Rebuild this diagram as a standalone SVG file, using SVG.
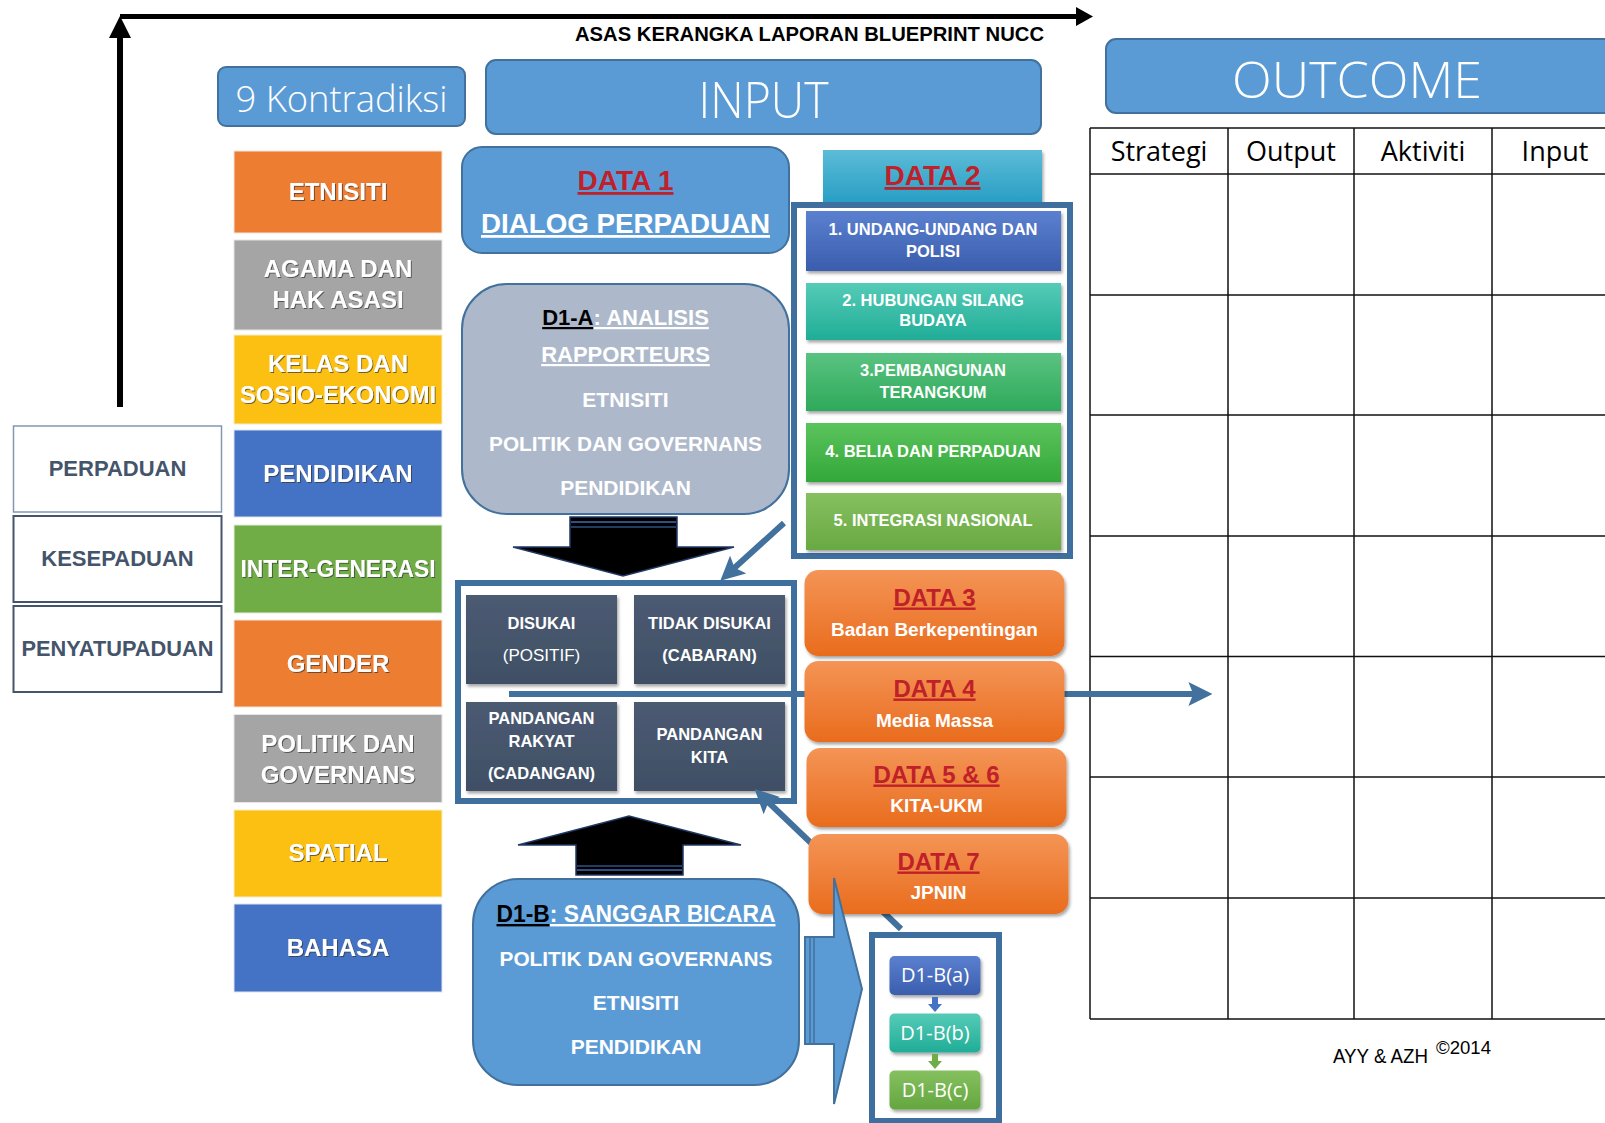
<svg xmlns="http://www.w3.org/2000/svg" width="1605" height="1123" viewBox="0 0 1605 1123">
<defs>
<style>
text{font-family:"Liberation Sans",Arial,sans-serif;}
.b{font-weight:bold;}
.mid{text-anchor:middle;}
.lt{font-family:"Open Sans","Lato","Liberation Sans",sans-serif;font-weight:300;fill:#fff;text-anchor:middle;}
.cat{font-size:24px;font-weight:bold;fill:#fff;text-anchor:middle;filter:url(#ts);}
.lvl{font-size:22px;font-weight:bold;fill:#44546a;text-anchor:middle;}
.blue{fill:#5b9bd5;stroke:#41719c;stroke-width:2;}
.red{fill:#c0202a;font-weight:bold;text-decoration:underline;text-anchor:middle;}
.wu{fill:#fff;font-weight:bold;text-decoration:underline;text-anchor:middle;}
.wt{fill:#fff;font-weight:bold;text-anchor:middle;}
.th{font-family:"Open Sans","Lato","Liberation Sans",sans-serif;font-size:27px;fill:#000;text-anchor:middle;}
.grid{stroke:#111;stroke-width:1.5;fill:none;}
.cell{fill:url(#gCell);filter:url(#sh);}
.ctext{font-size:16.5px;font-weight:bold;fill:#fff;text-anchor:middle;}
.ctl{font-size:17px;font-weight:normal;fill:#fff;text-anchor:middle;}
.org{fill:url(#gOrg);filter:url(#sh);}
.frame{fill:#fff;stroke:#3e6f9f;stroke-width:6;}
.conn{stroke:#41719c;stroke-width:6;fill:none;marker-end:url(#ah);}
.d2i{filter:url(#sh);}
.dt{font-size:16.5px;font-weight:bold;fill:#fff;text-anchor:middle;}
.sm{font-family:"Open Sans","Liberation Sans",sans-serif;font-size:20px;fill:#fff;text-anchor:middle;}
</style>
<filter id="sh" x="-10%" y="-10%" width="125%" height="135%"><feDropShadow dx="1.5" dy="2.5" stdDeviation="1.5" flood-color="#000" flood-opacity="0.35"/></filter>
<filter id="ts" x="-5%" y="-20%" width="115%" height="150%"><feDropShadow dx="1" dy="1" stdDeviation="0.6" flood-color="#333" flood-opacity="0.7"/></filter>
<linearGradient id="gOrg" x1="0" y1="0" x2="0" y2="1"><stop offset="0" stop-color="#f49456"/><stop offset="1" stop-color="#e96c1d"/></linearGradient>
<linearGradient id="gCell" x1="0" y1="0" x2="0" y2="1"><stop offset="0" stop-color="#4b5b72"/><stop offset="1" stop-color="#3f4f65"/></linearGradient>
<linearGradient id="gTeal" x1="0" y1="0" x2="0" y2="1"><stop offset="0" stop-color="#5cbcd7"/><stop offset="1" stop-color="#259cc3"/></linearGradient>
<linearGradient id="g1" x1="0" y1="0" x2="0" y2="1"><stop offset="0" stop-color="#5b80cf"/><stop offset="1" stop-color="#3a5dad"/></linearGradient>
<linearGradient id="g2" x1="0" y1="0" x2="0" y2="1"><stop offset="0" stop-color="#55cbb7"/><stop offset="1" stop-color="#20ad97"/></linearGradient>
<linearGradient id="g3" x1="0" y1="0" x2="0" y2="1"><stop offset="0" stop-color="#5ac381"/><stop offset="1" stop-color="#2ea95a"/></linearGradient>
<linearGradient id="g4" x1="0" y1="0" x2="0" y2="1"><stop offset="0" stop-color="#5cc35c"/><stop offset="1" stop-color="#32a83a"/></linearGradient>
<linearGradient id="g5" x1="0" y1="0" x2="0" y2="1"><stop offset="0" stop-color="#86c05f"/><stop offset="1" stop-color="#69a943"/></linearGradient>
<linearGradient id="gc" x1="0" y1="0" x2="0" y2="1"><stop offset="0" stop-color="#86c05f"/><stop offset="1" stop-color="#64a63f"/></linearGradient>
<marker id="ah" viewBox="0 0 10 10" refX="4" refY="5" markerWidth="24" markerHeight="24" markerUnits="userSpaceOnUse" orient="auto"><path d="M0,0 L10,5 L0,10 L2,5 z" fill="#41719c"/></marker>
</defs>

<rect x="0" y="0" width="1605" height="1123" fill="#fff"/>

<g id="axes">
<line x1="120" y1="16.5" x2="1080" y2="16.5" stroke="#000" stroke-width="5"/>
<polygon points="1076,7 1093,16.5 1076,26" fill="#000"/>
<line x1="120" y1="407" x2="120" y2="34" stroke="#000" stroke-width="6"/>
<polygon points="109,38 120,16 131,38" fill="#000"/>
<text x="1044" y="41" font-size="21" class="b" text-anchor="end" textLength="469" lengthAdjust="spacingAndGlyphs">ASAS KERANGKA LAPORAN BLUEPRINT NUCC</text>
</g>

<g id="kontradiksi-header">
<rect x="218" y="67" width="247" height="59" rx="8" class="blue"/>
<text x="341.5" y="112" font-size="36" class="lt" textLength="212" lengthAdjust="spacingAndGlyphs">9 Kontradiksi</text>
</g>

<g id="input-header">
<rect x="486" y="60" width="555" height="74" rx="10" class="blue"/>
<text x="763.5" y="118" font-size="50" class="lt" textLength="130" lengthAdjust="spacingAndGlyphs">INPUT</text>
</g>

<g id="outcome-header">
<rect x="1106" y="39" width="520" height="74" rx="10" class="blue"/>
<text x="1357" y="98" font-size="50" class="lt" textLength="250" lengthAdjust="spacingAndGlyphs">OUTCOME</text>
</g>

<g id="outcome-table">
<line x1="1090" y1="128" x2="1605" y2="128" class="grid"/>
<line x1="1090" y1="174" x2="1605" y2="174" class="grid"/>
<line x1="1090" y1="295" x2="1605" y2="295" class="grid"/>
<line x1="1090" y1="415" x2="1605" y2="415" class="grid"/>
<line x1="1090" y1="536" x2="1605" y2="536" class="grid"/>
<line x1="1090" y1="656.5" x2="1605" y2="656.5" class="grid"/>
<line x1="1090" y1="777" x2="1605" y2="777" class="grid"/>
<line x1="1090" y1="898" x2="1605" y2="898" class="grid"/>
<line x1="1090" y1="1019" x2="1605" y2="1019" class="grid"/>
<line x1="1090" y1="128" x2="1090" y2="1019" class="grid"/>
<line x1="1228" y1="128" x2="1228" y2="1019" class="grid"/>
<line x1="1354" y1="128" x2="1354" y2="1019" class="grid"/>
<line x1="1492" y1="128" x2="1492" y2="1019" class="grid"/>
<text x="1159" y="161" class="th">Strategi</text>
<text x="1291" y="161" class="th">Output</text>
<text x="1423" y="161" class="th">Aktiviti</text>
<text x="1555" y="161" class="th">Input</text>
</g>

<g id="levels">
<rect x="13.5" y="426" width="208" height="86" fill="#fff" stroke="#8497b0" stroke-width="1.5"/>
<text x="117.5" y="476" class="lvl">PERPADUAN</text>
<rect x="13.5" y="516" width="208" height="86" fill="#fff" stroke="#44546a" stroke-width="2"/>
<text x="117.5" y="566" class="lvl">KESEPADUAN</text>
<rect x="13.5" y="606" width="208" height="86" fill="#fff" stroke="#44546a" stroke-width="2"/>
<text x="117.5" y="656" class="lvl" textLength="192" lengthAdjust="spacingAndGlyphs">PENYATUPADUAN</text>
</g>

<g id="contradictions">
<g id="k-etnisiti"><rect x="234" y="151" width="208" height="82" fill="#ed7d31" stroke="#f3e6dc" stroke-width="1"/><text x="338" y="200" class="cat">ETNISITI</text></g>
<g id="k-agama"><rect x="234" y="240" width="208" height="90" fill="#a5a5a5" stroke="#e6e6e6" stroke-width="1"/><text x="338" y="276.5" class="cat">AGAMA DAN</text><text x="338" y="307.5" class="cat">HAK ASASI</text></g>
<g id="k-kelas"><rect x="234" y="335" width="208" height="89" fill="#fcc012" stroke="#f7ecc8" stroke-width="1"/><text x="338" y="372" class="cat">KELAS DAN</text><text x="338" y="402.5" class="cat" textLength="196" lengthAdjust="spacingAndGlyphs">SOSIO-EKONOMI</text></g>
<g id="k-pendidikan"><rect x="234" y="430" width="208" height="87" fill="#4472c4" stroke="#dbe3f2" stroke-width="1"/><text x="338" y="481.5" class="cat">PENDIDIKAN</text></g>
<g id="k-inter"><rect x="234" y="525" width="208" height="88" fill="#70ad47" stroke="#e3efdc" stroke-width="1"/><text x="338" y="576.5" class="cat" textLength="195" lengthAdjust="spacingAndGlyphs">INTER-GENERASI</text></g>
<g id="k-gender"><rect x="234" y="620" width="208" height="87" fill="#ed7d31" stroke="#f3e6dc" stroke-width="1"/><text x="338" y="671.5" class="cat">GENDER</text></g>
<g id="k-politik"><rect x="234" y="714.5" width="208" height="88" fill="#a5a5a5" stroke="#e6e6e6" stroke-width="1"/><text x="338" y="751.5" class="cat">POLITIK DAN</text><text x="338" y="782.5" class="cat">GOVERNANS</text></g>
<g id="k-spatial"><rect x="234" y="810" width="208" height="87" fill="#fcc012" stroke="#f7ecc8" stroke-width="1"/><text x="338" y="861" class="cat">SPATIAL</text></g>
<g id="k-bahasa"><rect x="234" y="904" width="208" height="88" fill="#4472c4" stroke="#dbe3f2" stroke-width="1"/><text x="338" y="955.5" class="cat">BAHASA</text></g>
</g>

<g id="data1">
<rect x="462" y="147" width="327" height="106" rx="20" class="blue"/>
<text x="625.5" y="190" font-size="28" class="red">DATA 1</text>
<text x="625.5" y="233" font-size="28" class="wu" textLength="289" lengthAdjust="spacingAndGlyphs">DIALOG PERPADUAN</text>
</g>

<g id="d1a">
<rect x="462" y="284" width="327" height="230" rx="45" fill="#adb9ca" stroke="#41719c" stroke-width="2"/>
<text x="625.5" y="325" font-size="22" class="b mid"><tspan fill="#000" text-decoration="underline">D1-A</tspan><tspan fill="#fff" text-decoration="underline">: ANALISIS</tspan></text>
<text x="625.5" y="362" font-size="22" class="wu">RAPPORTEURS</text>
<text x="625.5" y="407" font-size="21" class="wt">ETNISITI</text>
<text x="625.5" y="451" font-size="21" class="wt" textLength="273" lengthAdjust="spacingAndGlyphs">POLITIK DAN GOVERNANS</text>
<text x="625.5" y="495" font-size="21" class="wt">PENDIDIKAN</text>
</g>

<g id="data2">
<rect x="823" y="150" width="219" height="56" fill="url(#gTeal)" filter="url(#sh)"/>
<text x="932.5" y="185" font-size="28" class="red">DATA 2</text>
<rect x="794" y="205" width="276" height="351" class="frame" stroke-width="5"/>
<g class="d2i">
<rect x="806" y="211" width="255" height="60" fill="url(#g1)"/>
<rect x="806" y="283" width="255" height="57" fill="url(#g2)"/>
<rect x="806" y="353" width="255" height="58" fill="url(#g3)"/>
<rect x="806" y="423" width="255" height="59" fill="url(#g4)"/>
<rect x="806" y="493" width="255" height="57" fill="url(#g5)"/>
</g>
<text x="933" y="235" class="dt">1. UNDANG-UNDANG DAN</text>
<text x="933" y="256.5" class="dt">POLISI</text>
<text x="933" y="305.5" class="dt">2. HUBUNGAN SILANG</text>
<text x="933" y="326" class="dt">BUDAYA</text>
<text x="933" y="376" class="dt">3.PEMBANGUNAN</text>
<text x="933" y="397.5" class="dt">TERANGKUM</text>
<text x="933" y="457" class="dt">4. BELIA DAN PERPADUAN</text>
<text x="933" y="525.5" class="dt">5. INTEGRASI NASIONAL</text>
</g>

<g id="arrow-down">
<polygon points="570,517 677,517 677,547 734,547 623,576 513,547 570,547" fill="#000" stroke="#1f3864" stroke-width="1.5"/>
<line x1="571" y1="522" x2="676" y2="522" stroke="#2f5083" stroke-width="2"/>
<line x1="571" y1="527" x2="676" y2="527" stroke="#2f5083" stroke-width="1.5"/>
</g>

<g id="views">
<rect x="458" y="583" width="336" height="218" class="frame"/>
<rect x="466" y="595" width="151" height="89" class="cell"/>
<rect x="634" y="595" width="151" height="89" class="cell"/>
<rect x="466" y="702" width="151" height="89" class="cell"/>
<rect x="634" y="702" width="151" height="89" class="cell"/>
<text x="541.5" y="629" class="ctext">DISUKAI</text>
<text x="541.5" y="661" class="ctl">(POSITIF)</text>
<text x="709.5" y="629" class="ctext">TIDAK DISUKAI</text>
<text x="709.5" y="661" class="ctext">(CABARAN)</text>
<text x="541.5" y="724" class="ctext">PANDANGAN</text>
<text x="541.5" y="747" class="ctext">RAKYAT</text>
<text x="541.5" y="779" class="ctext">(CADANGAN)</text>
<text x="709.5" y="739.5" class="ctext">PANDANGAN</text>
<text x="709.5" y="763" class="ctext">KITA</text>
</g>

<g id="connectors">
<line x1="509" y1="694" x2="1198" y2="694" class="conn" stroke-width="7"/>
<line x1="784" y1="523" x2="731" y2="571" class="conn"/>
<line x1="901" y1="929" x2="765" y2="799" class="conn"/>
</g>

<g id="data3">
<rect x="804.5" y="570" width="260" height="86" rx="14" class="org"/>
<text x="934.5" y="605.5" font-size="24" class="red">DATA 3</text>
<text x="934.5" y="636" font-size="19" class="wt">Badan Berkepentingan</text>
</g>
<g id="data4">
<rect x="804.5" y="661" width="260" height="81" rx="14" class="org"/>
<text x="934.5" y="696.5" font-size="24" class="red">DATA 4</text>
<text x="934.5" y="727" font-size="19" class="wt">Media Massa</text>
</g>
<g id="data56">
<rect x="806.5" y="748" width="260" height="79" rx="14" class="org"/>
<text x="936.5" y="782.5" font-size="24" class="red">DATA 5 &amp; 6</text>
<text x="936.5" y="812" font-size="19" class="wt">KITA-UKM</text>
</g>
<g id="data7">
<rect x="808.5" y="834" width="260" height="80" rx="14" class="org"/>
<text x="938.5" y="869.5" font-size="24" class="red">DATA 7</text>
<text x="938.5" y="899" font-size="19" class="wt">JPNIN</text>
</g>

<g id="arrow-up">
<polygon points="518,845 629,816 741,845 683,845 683,875 576,875 576,845" fill="#000" stroke="#1f3864" stroke-width="1.5"/>
<line x1="577" y1="866" x2="682" y2="866" stroke="#2f5083" stroke-width="1.5"/>
<line x1="577" y1="870" x2="682" y2="870" stroke="#2f5083" stroke-width="2"/>
</g>

<g id="d1b">
<rect x="473" y="879" width="326" height="206" rx="45" class="blue"/>
<text x="636" y="922" font-size="24" class="b mid" textLength="279" lengthAdjust="spacingAndGlyphs"><tspan fill="#000" text-decoration="underline">D1-B</tspan><tspan fill="#fff" text-decoration="underline">: SANGGAR BICARA</tspan></text>
<text x="636" y="966" font-size="21" class="wt" textLength="273" lengthAdjust="spacingAndGlyphs">POLITIK DAN GOVERNANS</text>
<text x="636" y="1010" font-size="21" class="wt">ETNISITI</text>
<text x="636" y="1054" font-size="21" class="wt">PENDIDIKAN</text>
</g>

<g id="arrow-right">
<polygon points="805,937 834,937 834,878 862,989 834,1104 834,1044 805,1044" class="blue"/>
<line x1="810" y1="938" x2="810" y2="1043" stroke="#41719c" stroke-width="1.5"/>
<line x1="814" y1="938" x2="814" y2="1043" stroke="#41719c" stroke-width="1.5"/>
</g>

<g id="d1b-steps">
<rect x="872" y="935" width="127" height="186" class="frame" stroke-width="5"/>
<rect x="889.5" y="956" width="91" height="39" rx="5" fill="url(#g1)" filter="url(#sh)"/>
<text x="935" y="982" class="sm">D1-B(a)</text>
<polygon points="932,997 938,997 938,1004 942,1004 935,1012 928,1004 932,1004" fill="#4472c4"/>
<rect x="889.5" y="1013.5" width="91" height="39" rx="5" fill="url(#g2)" filter="url(#sh)"/>
<text x="935" y="1039.5" class="sm">D1-B(b)</text>
<polygon points="932,1054 938,1054 938,1061 942,1061 935,1069 928,1061 932,1061" fill="#70ad47"/>
<rect x="889.5" y="1070.5" width="91" height="39" rx="5" fill="url(#gc)" filter="url(#sh)"/>
<text x="935" y="1096.5" class="sm">D1-B(c)</text>
</g>

<g id="credit">
<text x="1333" y="1063" font-size="21" textLength="95" lengthAdjust="spacingAndGlyphs">AYY &amp; AZH</text>
<text x="1436" y="1054" font-size="18" textLength="55" lengthAdjust="spacingAndGlyphs">©2014</text>
</g>
</svg>
